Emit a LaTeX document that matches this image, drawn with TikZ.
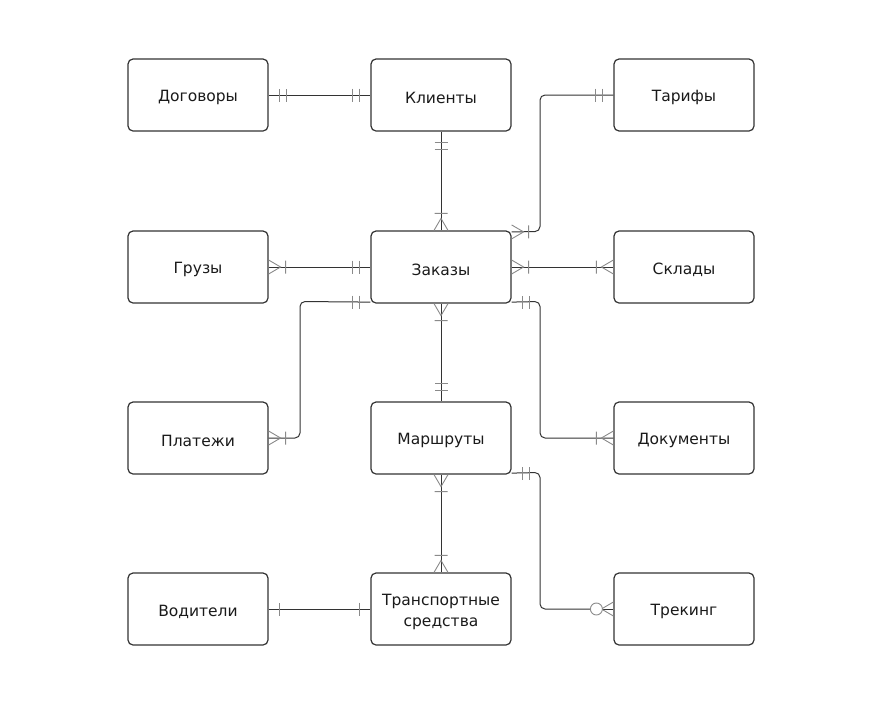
\documentclass[tikz,border=0pt]{standalone}
\usepackage{fontspec}
\setmainfont{DejaVu Sans}
\definecolor{boxline}{HTML}{333333}
\definecolor{connline}{HTML}{333333}
\definecolor{mkgray}{HTML}{8A8A8A}
\definecolor{txt}{HTML}{1A1A1A}
\newcommand{\lowtxt}[1]{\raisebox{-2.5pt}[\height][\depth]{#1}}
\tikzset{
  entity/.style={draw=boxline, line width=1.2pt, fill=white, rounded corners=5pt,
    minimum width=140pt, minimum height=72pt, inner sep=2pt, align=center,
    text=txt, font=\fontsize{15.5}{21}\selectfont},
  conn/.style={draw=connline, line width=1pt, rounded corners=5pt},
  mk/.style={draw=mkgray, line width=0.9pt},
  pics/one/.style={code={\draw[mk] (17,-6.5)--(17,6.5);}},
  pics/onesingle/.style={code={\draw[mk] (11,-6.5)--(11,6.5);}},
  pics/two/.style={code={\draw[mk] (11,-6.5)--(11,6.5) (18,-6.5)--(18,6.5);}},
  pics/many/.style={code={\draw[mk] (0,-7)--(12,0)--(0,7) (17,-6.5)--(17,6.5);}},
  pics/zeromany/.style={code={\draw[mk] (0,-7)--(12,0)--(0,7); \draw[mk,fill=white] (17,0) circle (6);}},
}
\begin{document}
\begin{tikzpicture}[x=1pt,y=1pt]
\useasboundingbox (0,0) rectangle (889,-713);
% entities
\node[entity] (dog) at (198,-95) {\lowtxt{Договоры}};
\node[entity] (kli) at (441,-95) {\lowtxt{Клиенты}};
\node[entity] (tar) at (684,-95) {\lowtxt{Тарифы}};
\node[entity] (gru) at (198,-267) {\lowtxt{Грузы}};
\node[entity] (zak) at (441,-267) {\lowtxt{Заказы}};
\node[entity] (skl) at (684,-267) {\lowtxt{Склады}};
\node[entity] (pla) at (198,-438) {\lowtxt{Платежи}};
\node[entity] (mar) at (441,-438) {\lowtxt{Маршруты}};
\node[entity] (doc) at (684,-438) {\lowtxt{Документы}};
\node[entity] (vod) at (198,-609) {\lowtxt{Водители}};
\node[entity] (ts) at (441,-609) {\lowtxt{\begin{tabular}{@{}c@{}}Транспортные\\средства\end{tabular}}};
\node[entity] (tre) at (684,-609) {\lowtxt{Трекинг}};
% helper coordinates
\coordinate (zakTR) at ([yshift=-1.5pt]zak.north east);
\coordinate (zakBL) at ([yshift=1.5pt]zak.south west);
\coordinate (zakBR) at ([yshift=1.5pt]zak.south east);
\coordinate (marBR) at ([yshift=1.5pt]mar.south east);
\coordinate (cTar1) at (540,-95);
\coordinate (cTar2) at (540,-231.5);
\coordinate (cPla1) at (300,-301.5);
\coordinate (cPla2) at (300,-438);
\coordinate (cDoc1) at (540,-301.5);
\coordinate (cDoc2) at (540,-438);
\coordinate (cTre1) at (540,-472.5);
\coordinate (cTre2) at (540,-609);
% connectors
\draw[conn] (dog.east) -- (kli.west);
\draw[conn] (kli.south) -- (zak.north);
\draw[conn] (tar.west) -- (cTar1) -- (cTar2) -- (zakTR);
\draw[conn] (gru.east) -- (zak.west);
\draw[conn] (zak.east) -- (skl.west);
\draw[conn] (zakBL) -- (cPla1) -- (cPla2) -- (pla.east);
\draw[conn] (zakBR) -- (cDoc1) -- (cDoc2) -- (doc.west);
\draw[conn] (zak.south) -- (mar.north);
\draw[conn] (mar.south) -- (ts.north);
\draw[conn] (vod.east) -- (ts.west);
\draw[conn] (marBR) -- (cTre1) -- (cTre2) -- ([xshift=-23pt]tre.west);
\draw[conn] ([xshift=-11pt]tre.west) -- (tre.west);
% markers
\pic at (dog.east) {two};
\pic[rotate=180] at (kli.west) {two};
\pic[rotate=-90] at (kli.south) {two};
\pic[rotate=90] at (zak.north) {many};
\pic[rotate=180] at (tar.west) {two};
\pic at (zakTR) {many};
\pic at (gru.east) {many};
\pic[rotate=180] at (zak.west) {two};
\pic at (zak.east) {many};
\pic[rotate=180] at (skl.west) {many};
\pic[rotate=180] at (zakBL) {two};
\pic at (pla.east) {many};
\pic at (zakBR) {two};
\pic[rotate=180] at (doc.west) {many};
\pic[rotate=-90] at (zak.south) {many};
\pic[rotate=90] at (mar.north) {two};
\pic[rotate=-90] at (mar.south) {many};
\pic[rotate=90] at (ts.north) {many};
\pic at (vod.east) {onesingle};
\pic[rotate=180] at (ts.west) {onesingle};
\pic at (marBR) {two};
\pic[rotate=180] at (tre.west) {zeromany};
\end{tikzpicture}
\end{document}
